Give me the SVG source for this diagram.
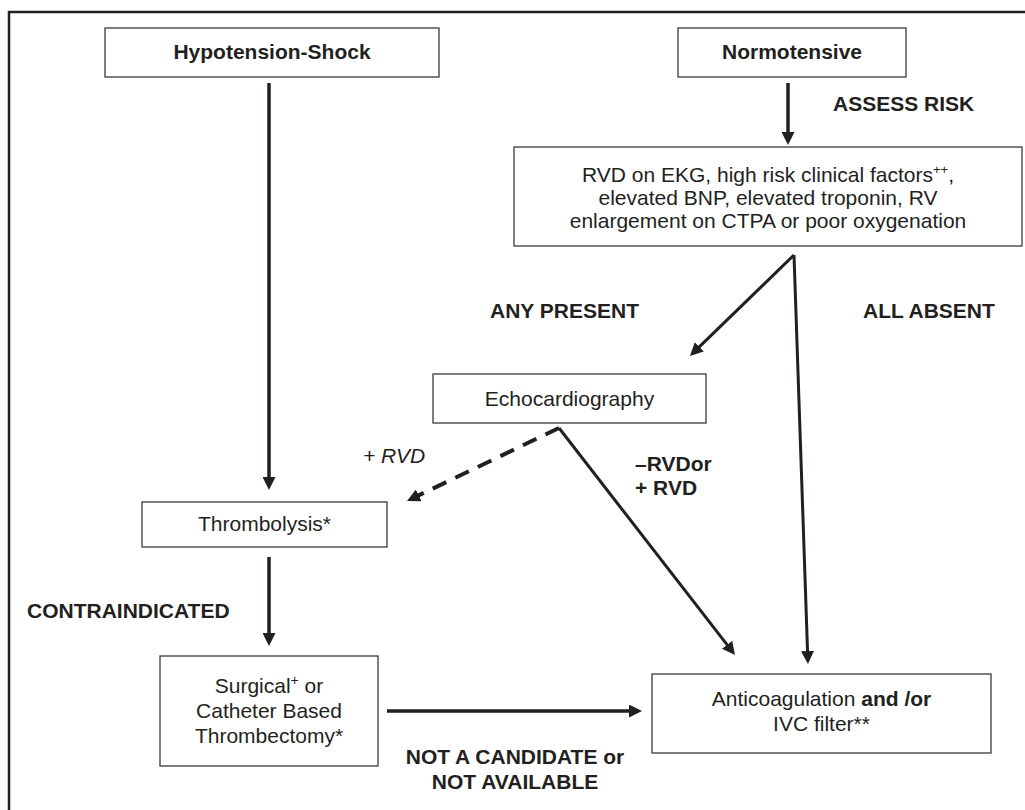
<svg xmlns="http://www.w3.org/2000/svg" width="1025" height="810" viewBox="0 0 1025 810">
<style>
.box{fill:#fff;stroke:#3a3a3a;stroke-width:1.3}
.t{font-family:"Liberation Sans",Arial,sans-serif;font-size:21px;fill:#231f20}
.b{font-weight:bold}
.c{text-anchor:middle}
.ln{fill:none;stroke:#231f20;stroke-width:3.5;marker-end:url(#ah)}
.dg{stroke-width:3}
.ds{stroke-width:4;stroke-dasharray:15 10}
</style>
<defs>
<marker id="ah" viewBox="0 0 13 13" refX="5" refY="6.5" markerWidth="13" markerHeight="13" markerUnits="userSpaceOnUse" orient="auto">
<path d="M0,0 L13,6.5 L0,13 z" fill="#231f20"/>
</marker>
</defs>
<rect width="1025" height="810" fill="#fff"/>
<path d="M9,815 V12 H1030" fill="none" stroke="#231f20" stroke-width="2.5"/>

<g id="hypotension">
<rect class="box" x="105" y="28" width="334" height="49"/>
<text class="t b c" x="272" y="59">Hypotension-Shock</text>
</g>
<g id="normotensive">
<rect class="box" x="678" y="28" width="228" height="49"/>
<text class="t b c" x="792" y="59">Normotensive</text>
</g>
<g id="risk">
<rect class="box" x="514" y="147" width="508" height="99"/>
<text class="t c" x="768" y="182">RVD on EKG, high risk clinical factors<tspan dy="-8" font-size="13">++</tspan><tspan dy="8">,</tspan></text>
<text class="t c" x="768" y="205">elevated BNP, elevated troponin, RV</text>
<text class="t c" x="768" y="228">enlargement on CTPA or poor oxygenation</text>
</g>
<g id="echo">
<rect class="box" x="433" y="374" width="273" height="49"/>
<text class="t c" x="569.5" y="406">Echocardiography</text>
</g>
<g id="thrombolysis">
<rect class="box" x="142" y="502" width="245" height="45"/>
<text class="t c" x="264.5" y="531">Thrombolysis*</text>
</g>
<g id="thrombectomy">
<rect class="box" x="160" y="656" width="218" height="110"/>
<text class="t c" x="269" y="693">Surgical<tspan dy="-8" font-size="14">+</tspan><tspan dy="8"> or</tspan></text>
<text class="t c" x="269" y="718">Catheter Based</text>
<text class="t c" x="269" y="743">Thrombectomy*</text>
</g>
<g id="anticoagulation">
<rect class="box" x="652" y="674" width="339" height="79"/>
<text class="t c" x="821.5" y="706">Anticoagulation <tspan class="b">and /or</tspan></text>
<text class="t c" x="821.5" y="731">IVC filter**</text>
</g>

<g id="connectors">
<path class="ln" d="M269,83 V482"/>
<path class="ln" d="M788,83 V137"/>
<path class="ln dg" d="M794,255 L695.7,350.4"/>
<path class="ln dg" d="M794,255 L807.7,656"/>
<path class="ln ds" d="M559,428 L414.2,497.5"/>
<path class="ln dg" d="M559,428 L730.1,648.7"/>
<path class="ln" d="M269,557 V638"/>
<path class="ln" d="M387,711 H634"/>
</g>

<g id="labels">
<text class="t b" x="833" y="111">ASSESS RISK</text>
<text class="t b" x="490" y="318">ANY PRESENT</text>
<text class="t b" x="863" y="318">ALL ABSENT</text>
<text class="t" x="363" y="463" font-style="italic">+ RVD</text>
<text class="t b" x="635" y="471">–RVDor</text>
<text class="t b" x="635" y="495">+ RVD</text>
<text class="t b" x="27" y="618">CONTRAINDICATED</text>
<text class="t b c" x="515" y="764">NOT A CANDIDATE or</text>
<text class="t b c" x="515" y="789">NOT AVAILABLE</text>
</g>
</svg>
